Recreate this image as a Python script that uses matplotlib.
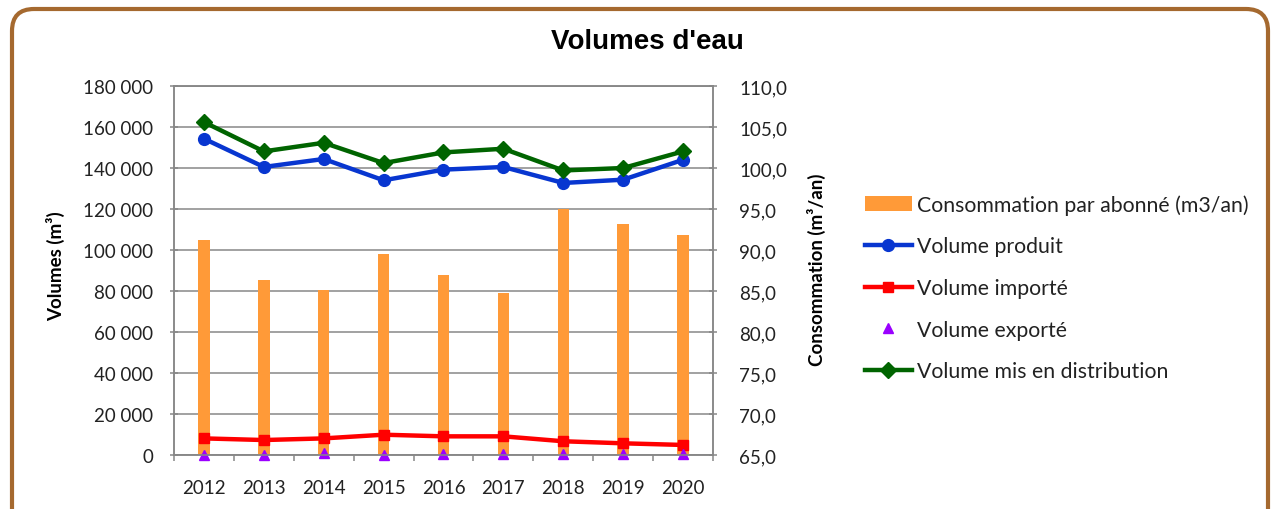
import matplotlib
matplotlib.use('Agg')
import matplotlib.pyplot as plt
from matplotlib.patches import FancyBboxPatch
from matplotlib.transforms import IdentityTransform
from matplotlib.ticker import FuncFormatter, FixedLocator

plt.rcParams['font.family'] = ['Lato', 'DejaVu Sans']

years = ['2012', '2013', '2014', '2015', '2016', '2017', '2018', '2019', '2020']
consommation = [91.2, 86.3, 85.1, 89.5, 86.9, 84.8, 95.0, 93.2, 91.8]
vol_produit = [154300, 140500, 144400, 134000, 139200, 140500, 132700, 134300, 144000]
vol_importe = [8100, 7300, 8100, 9900, 9100, 9100, 6700, 5700, 4900]
vol_exporte = [0, 0, 800, 0, 500, 500, 500, 500, 500]
vol_distrib = [162400, 148100, 152300, 142400, 147600, 149400, 138800, 140000, 148100]

grey = '#878787'
W, H = 1274, 510
fig = plt.figure(figsize=(W / 100, H / 100), dpi=100)

# axes box measured in pixels
left, right, top, bottom = 174, 713, 87, 456
ax = fig.add_axes([left / W, 1 - bottom / H, (right - left) / W, (bottom - top) / H])
ax2 = ax.twinx()
ax.set_zorder(ax2.get_zorder() + 1)
ax.patch.set_visible(False)

x = list(range(len(years)))

# bars on the secondary axis
bars = ax2.bar(x, [c - 65 for c in consommation], bottom=65, width=0.19,
               color='#FF9A38', label='Consommation par abonné (m3/an)', zorder=2)
ax2.set_ylim(65, 110)
ax2.yaxis.set_major_locator(FixedLocator([65 + 5 * i for i in range(10)]))
ax2.yaxis.set_major_formatter(FuncFormatter(lambda v, p: f'{v:.1f}'.replace('.', ',')))
ax2.grid(axis='y', color=grey, linewidth=1.1)
ax2.set_axisbelow(True)

# lines on the primary axis
l1, = ax.plot(x, vol_produit, color='#0836D0', lw=3.2, marker='o', ms=8.5,
              label='Volume produit')
l2, = ax.plot(x, vol_importe, color='#FF0000', lw=3.2, marker='s', ms=7.5,
              label='Volume importé')
l3, = ax.plot(x, vol_exporte, color='#9A00FF', lw=0, marker='^', ms=7.5,
              label='Volume exporté', clip_on=False)
l4, = ax.plot(x, vol_distrib, color='#006400', lw=3.2, marker='D', ms=8,
              label='Volume mis en distribution')
ax.set_ylim(0, 180000)
ax.yaxis.set_major_locator(FixedLocator([20000 * i for i in range(10)]))
ax.yaxis.set_major_formatter(FuncFormatter(lambda v, p: f'{v:,.0f}'.replace(',', ' ')))

ax.set_xlim(-0.5, len(years) - 0.5)
ax.set_xticks(x)
ax.set_xticklabels(years)
ax.set_xticks([i - 0.5 for i in range(len(years) + 1)], minor=True)
ax.tick_params(axis='x', which='major', length=0, pad=17, labelsize=13.5, colors='#222222')
ax.tick_params(axis='x', which='minor', direction='out', length=4, color=grey, width=1.1)
ax.tick_params(axis='y', direction='inout', length=6, color=grey, width=1.1,
               pad=12, labelsize=13.5, labelcolor='#222222')
ax2.tick_params(axis='y', direction='inout', length=6, color=grey, width=1.1,
                pad=16, labelsize=13.5, labelcolor='#222222')

for a in (ax, ax2):
    for s in a.spines.values():
        s.set_color(grey)
        s.set_linewidth(1.1)

fig.text(647 / W, 1 - 42 / H, "Volumes d'eau", ha='center', va='center',
         fontsize=20, fontweight='bold', family='Liberation Sans')
fig.text(56 / W, 1 - 266 / H, 'Volumes (m³)', rotation=90, ha='center', va='center',
         fontsize=13.5, fontweight='bold')
fig.text(816 / W, 1 - 270 / H, 'Consommation (m³/an)', rotation=90, ha='center',
         va='center', fontsize=13.5, fontweight='bold')

fig.legend(handles=[bars, l1, l2, l3, l4], loc='upper left',
           bbox_to_anchor=(865 / W, 1 - 195 / H), frameon=False, fontsize=15.3,
           handlelength=2.2, handletextpad=0.25, labelspacing=1.02, borderpad=0,
           borderaxespad=0, labelcolor='#222222')

# rounded frame around the chart
frame = FancyBboxPatch((12, -40), 1256, 540, boxstyle='round,pad=0,rounding_size=22',
                       transform=IdentityTransform(), facecolor='none',
                       edgecolor='#A5692F', linewidth=3)
fig.patches.append(frame)

fig.savefig('out.png', dpi=100)
